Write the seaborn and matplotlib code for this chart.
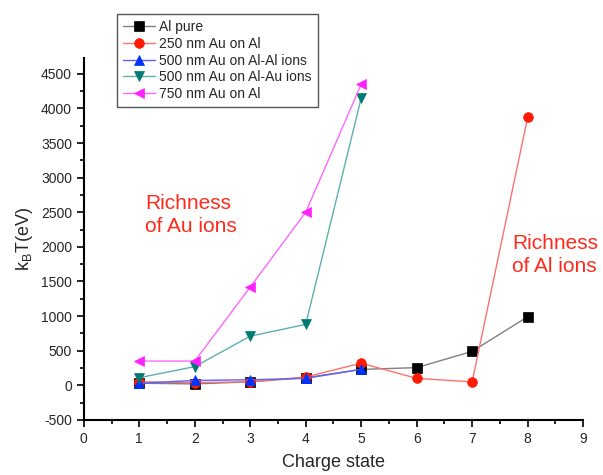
import pandas as pd
import matplotlib
matplotlib.use("Agg")
import matplotlib.pyplot as plt
import seaborn as sns
from matplotlib.ticker import MultipleLocator

# data
charge = [1, 2, 3, 4, 5, 6, 7, 8]
al_pure = [30, 20, 50, 110, 230, 255, 490, 990]
au250 = [50, 40, 50, 120, 320, 100, 50, 3870]
charge5 = [1, 2, 3, 4, 5]
au500_al = [30, 70, 80, 100, 230]
au500_au = [110, 270, 710, 880, 4150]
au750 = [350, 350, 1420, 2500, 4350]

labels = ["Al pure", "250 nm Au on Al", "500 nm Au on Al-Al ions",
          "500 nm Au on Al-Au ions", "750 nm Au on Al"]

sns.set_style("ticks")
plt.rcParams["font.family"] = ["Liberation Sans", "DejaVu Sans"]
plt.rcParams["axes.unicode_minus"] = False

fig = plt.figure(figsize=(6.03, 4.75), dpi=100)
ax = fig.add_axes([0.139, 0.116, 0.828, 0.762])

series = [
    (charge, al_pure, labels[0], "s", "#808080", "black"),
    (charge, au250, labels[1], "o", "#ff7070", "#ff1a00"),
    (charge5, au500_al, labels[2], "^", "#6060ff", "#0033ff"),
    (charge5, au500_au, labels[3], "v", "#5fb0ac", "#007a73"),
    (charge5, au750, labels[4], "<", "#ff66ff", "#ff22ff"),
]

for xs, ys, lab, mk, lc, mc in series:
    df = pd.DataFrame({"x": xs, "y": ys})
    sns.lineplot(data=df, x="x", y="y", ax=ax, label=lab, color=lc, lw=1,
                 marker=mk, markersize=7, markerfacecolor=mc,
                 markeredgecolor=mc, markeredgewidth=0.5)

ax.set_xlim(0, 9)
ax.set_ylim(-500, 4730)
ax.xaxis.set_major_locator(MultipleLocator(1))
ax.xaxis.set_minor_locator(MultipleLocator(0.5))
ax.yaxis.set_major_locator(MultipleLocator(500))
ax.yaxis.set_minor_locator(MultipleLocator(250))
ax.tick_params(which="major", length=5, width=1.2, labelsize=10, color="black")
ax.tick_params(which="minor", length=3, width=1.2, color="black")
for s in ["left", "bottom"]:
    ax.spines[s].set_linewidth(1.5)
    ax.spines[s].set_color("black")
sns.despine(ax=ax)

ax.set_xlabel("Charge state", fontsize=13, labelpad=6)
ax.set_ylabel(r"k$_\mathregular{B}$T(eV)", fontsize=13, labelpad=4)

ax.text(1.1, 2460, "Richness\nof Au ions", color="#ff2a1a", fontsize=15,
        va="center", ha="left", linespacing=1.3)
ax.text(7.72, 1880, "Richness\nof Al ions", color="#ff2a1a", fontsize=15,
        va="center", ha="left", linespacing=1.3)

leg = ax.legend(loc="upper left", bbox_to_anchor=(0.194, 0.971),
                bbox_transform=fig.transFigure, fontsize=10, frameon=True,
                fancybox=False, edgecolor="#555555", framealpha=1,
                handlelength=2.3, handletextpad=0.3, labelspacing=0.2,
                borderpad=0.45, borderaxespad=0)
leg.get_frame().set_linewidth(1)

fig.savefig("out.png", dpi=100)
